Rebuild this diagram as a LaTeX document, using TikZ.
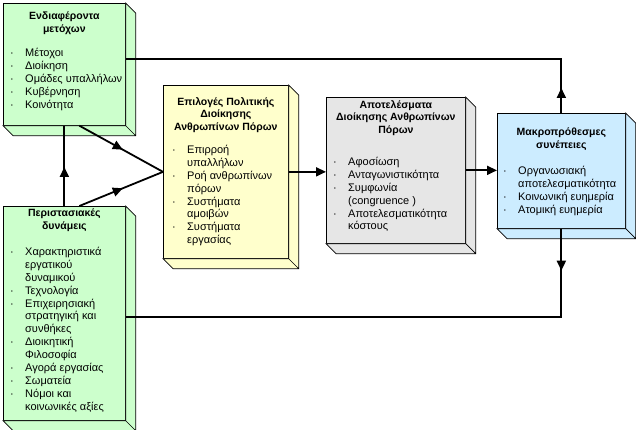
\documentclass[tikz,border=0pt]{standalone}
\usepackage{fontspec}
\setmainfont{Liberation Sans}
\usetikzlibrary{arrows.meta, decorations.markings, calc}

\definecolor{stakegreen}{HTML}{CCFFCC}
\definecolor{hrmyellow}{HTML}{FFFFCC}
\definecolor{outgray}{HTML}{E6E6E6}
\definecolor{consblue}{HTML}{CCECFF}

\newcommand{\boxfont}{\fontsize{10.5}{12.8}\selectfont}
\newcommand{\itemfont}{\fontsize{11}{12.9}\selectfont}
\newcommand{\bul}{\makebox[15pt][l]{·}}
\newcommand{\cont}{\hspace*{15pt}}

\begin{document}
\begin{tikzpicture}[x=1pt, y=-1pt,
        box/.style={draw, line width=0.7pt, anchor=north west, inner sep=0pt},
        head/.style={font=\boxfont\bfseries, align=center, anchor=north, inner sep=0pt},
        items/.style={font=\itemfont, align=left, anchor=north west, inner sep=0pt},
        line/.style={line width=1.8pt},
        tip/.style={-{Triangle[length=10pt, width=9pt]}},
        midtip/.style={postaction={decorate}, decoration={markings,
                mark=at position #1 with {\arrow{Triangle[length=10pt, width=9pt]}}}}
    ]
        \useasboundingbox (0,0) rectangle (636,430);

        \node[box, fill=stakegreen, minimum width=122pt, minimum height=122pt] (stake) at (3,3) {};
        \node[box, fill=stakegreen, minimum width=122pt, minimum height=214pt] (situ) at (3,206) {};
        \node[box, fill=hrmyellow, minimum width=125pt, minimum height=173pt] (hrm) at (163,85) {};
        \node[box, fill=outgray, minimum width=139pt, minimum height=146pt] (outc) at (326,97) {};
        \node[box, fill=consblue, minimum width=128pt, minimum height=115pt] (cons) at (497,113) {};

        \foreach \b/\c in {stake/stakegreen, situ/stakegreen, hrm/hrmyellow, outc/outgray, cons/consblue}
                \draw[line width=0.7pt, fill=\c] (\b.north east) -- ++(10,10) -- ($(\b.south east)+(10,10)$)
                        -- ($(\b.south west)+(10,10)$) -- (\b.south west) -- (\b.south east) -- cycle
                        (\b.south east) -- ++(10,10);

        \node[head] (stake-h) at ($(stake.north)+(0,9)$) {Ενδιαφέροντα\\μετόχων};
        \node[items] (stake-l) at ($(stake.north west)+(7,45)$) {\bul Μέτοχοι\\ \bul Διοίκηση\\
                \bul Ομάδες υπαλλήλων\\ \bul Κυβέρνηση\\ \bul Κοινότητα};

        \node[head] (situ-h) at ($(situ.north)+(0,3)$) {Περιστασιακές\\δυνάμεις};
        \node[items] (situ-l) at ($(situ.north west)+(7,41)$) {\bul Χαρακτηριστικά\\ \cont εργατικού\\
                \cont δυναμικού\\ \bul Τεχνολογία\\ \bul Επιχειρησιακή\\ \cont στρατηγική και\\
                \cont συνθήκες\\ \bul Διοικητική\\ \cont Φιλοσοφία\\ \bul Αγορά εργασίας\\
                \bul Σωματεία\\ \bul Νόμοι και\\ \cont κοινωνικές αξίες};

        \node[head] (hrm-h) at ($(hrm.north)+(0,12)$) {Επιλογές Πολιτικής\\Διοίκησης\\Ανθρωπίνων Πόρων};
        \node[items] (hrm-l) at ($(hrm.north west)+(9,60)$) {\bul Επιρροή\\ \cont υπαλλήλων\\
                \bul Ροή ανθρωπίνων\\ \cont πόρων\\ \bul Συστήματα\\ \cont αμοιβών\\
                \bul Συστήματα\\ \cont εργασίας};

        \node[head] (outc-h) at ($(outc.north)+(0,3)$) {Αποτελέσματα\\Διοίκησης Ανθρωπίνων\\Πόρων};
        \node[items] (outc-l) at ($(outc.north west)+(7,60)$) {\bul Αφοσίωση\\ \bul Ανταγωνιστικότητα\\
                \bul Συμφωνία\\ \cont (congruence )\\ \bul Αποτελεσματικότητα\\ \cont κόστους};

        \node[head] (cons-h) at ($(cons.north)+(0,15)$) {Μακροπρόθεσμες\\συνέπειες};
        \node[items] (cons-l) at ($(cons.north west)+(6,53)$) {\bul Οργανωσιακή\\ \cont αποτελεσματικότητα\\
                \bul Κοινωνική ευημερία\\ \bul Ατομική ευημερία};

        \draw[line, midtip=25pt] (cons.north) |- ([yshift=5pt]stake.east);
        \draw[line, midtip=42pt] (cons.south) |- ([yshift=-4pt]situ.east);
        \draw[line, midtip=39pt] (situ.north) -- (stake.south);
        \draw[line, midtip=0.52] ([xshift=15pt]stake.south) -- (hrm.west);
        \draw[line, midtip=0.52] ([xshift=15pt]situ.north) -- (hrm.west);
        \draw[line, tip] (hrm.east) -- (outc.west |- hrm.east);
        \draw[line, tip] (outc.east) -- (cons.west |- outc.east);
    \end{tikzpicture}
\end{document}
